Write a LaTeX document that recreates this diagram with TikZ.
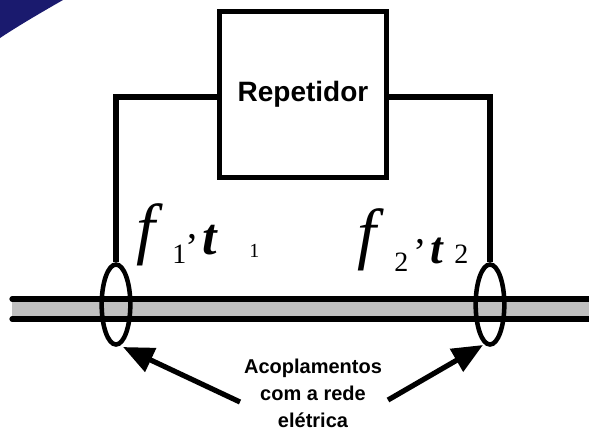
\documentclass[tikz,border=0pt]{standalone}
\usepackage{fontspec}
\setmainfont{Liberation Serif}
\setsansfont{Liberation Sans}
\usetikzlibrary{arrows.meta,shapes.geometric}
\definecolor{navycorner}{RGB}{26,26,110}
\definecolor{cablegray}{RGB}{192,192,192}
\begin{document}
\begin{tikzpicture}[x=0.75pt,y=-0.75pt,
  thick line/.style={line width=3.9pt},
  repbox/.style={draw,line width=3.9pt,minimum width=125pt,minimum height=124.5pt,inner sep=0pt,font=\sffamily\bfseries\fontsize{21pt}{25pt}\selectfont},
  coupler/.style={draw,ellipse,line width=3.4pt,minimum width=21.5pt,minimum height=60pt,inner sep=0pt},
  bigarrow/.style={line width=3.9pt,-{Triangle[length=23pt,width=19pt]}},
  flab/.style={inner sep=0pt,anchor=base west,font=\itshape\fontsize{51pt}{54pt}\selectfont},
  tlab/.style={inner sep=0pt,anchor=base west,font=\bfseries\itshape\fontsize{39pt}{42pt}\selectfont},
  sublab/.style={inner sep=0pt,anchor=base west,font=\fontsize{21pt}{24pt}\selectfont},
  commalab/.style={inner sep=0pt,anchor=base west,font=\fontsize{30pt}{32pt}\selectfont},
  note/.style={inner sep=0pt,align=center,font=\sffamily\bfseries\fontsize{15pt}{20pt}\selectfont}]
\useasboundingbox (0,0) rectangle (589,430);
% corner decoration
\fill[navycorner] (0,0) -- (63,0) .. controls (42,12) and (18,26) .. (0,38) -- cycle;
% cable
\fill[cablegray] (12,299) rectangle (589,319);
\draw[thick line,line cap=round] (12,299) -- (592,299);
\draw[thick line,line cap=round] (12,319) -- (592,319);
% repeater
\node[repbox] (rep) at (303,94.5) {Repetidor};
% couplers
\node[coupler] (c1) at (116,304.5) {};
\node[coupler] (c2) at (490,304.5) {};
% wires
\draw[thick line] ([yshift=-1.9pt]rep.west) -| (c1.north);
\draw[thick line] ([yshift=-1.9pt]rep.east) -| (c2.north);
% labels
\node[flab] (f1) at (136,251) {f};
\node[sublab] (s1) at (172,263) {1};
\node[commalab] (k1) at (187,238) {,};
\node[tlab] (t1) at (202,254) {t};
\node[sublab,font=\fontsize{15pt}{17pt}\selectfont] (u1) at (249,257) {1};
\node[flab] (f2) at (357,256) {f};
\node[sublab] (s2) at (394,271) {2};
\node[commalab] (k2) at (415,243) {,};
\node[tlab,font=\bfseries\itshape\fontsize{34pt}{38pt}\selectfont] (t2) at (430,263) {t};
\node[sublab] (u2) at (454,263) {2};
% note and arrows
\node[note,anchor=base] (note) at (313,427) {Acoplamentos\\com a rede\\elétrica};
\coordinate (a1) at (240,402);
\coordinate (h1) at (123,347);
\coordinate (a2) at (388,400);
\coordinate (h2) at (483,345);
\draw[bigarrow] (a1) -- (h1);
\draw[bigarrow] (a2) -- (h2);
\end{tikzpicture}
\end{document}
